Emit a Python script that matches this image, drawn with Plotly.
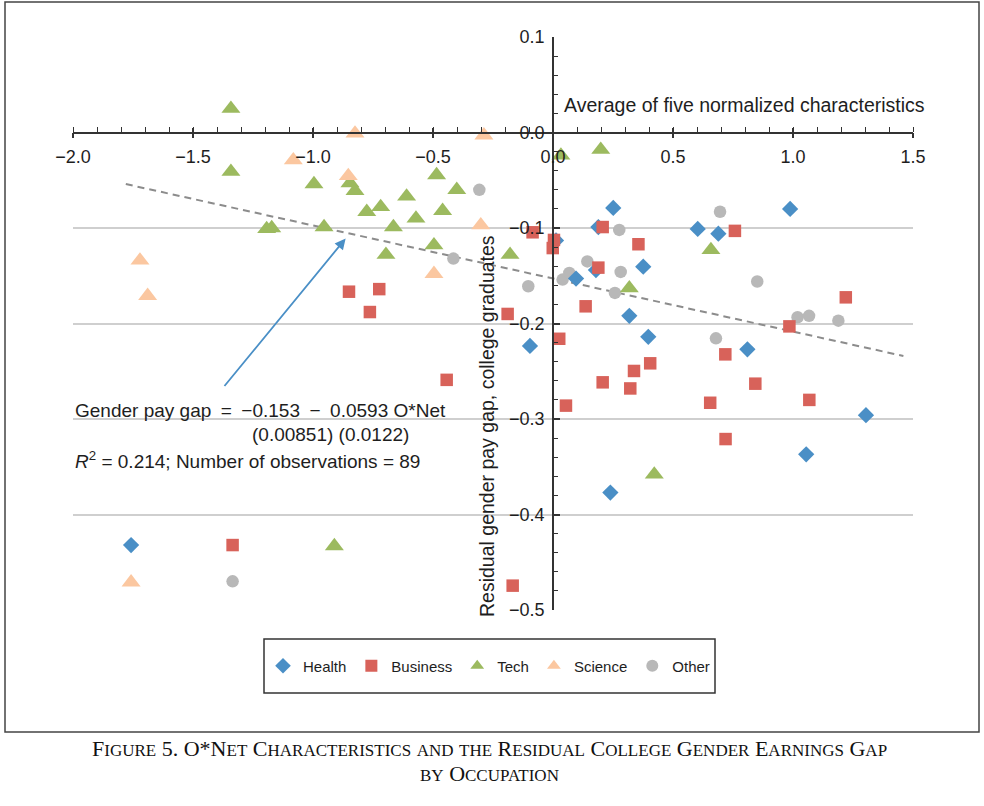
import plotly.graph_objects as go

# ---------------- data ----------------
health_x = [0.251, 0.189, 0.0125, 0.179, 0.096, 0.376, 0.318, 0.397, -0.096, 0.810,
            0.239, 1.055, 1.304, 0.603, 0.689, 0.988, -1.758]
health_y = [-0.079, -0.099, -0.113, -0.144, -0.153, -0.1405, -0.192, -0.214, -0.2235, -0.227,
            -0.377, -0.337, -0.296, -0.101, -0.106, -0.080, -0.432]

business_x = [-0.085, 0.004, -0.001, 0.207, 0.356, 0.189, 0.136, -0.189, 0.758, 1.220,
              0.985, -0.850, -0.724, -0.763, -0.443, -0.168, 0.026, 0.054, 0.207, 0.322,
              0.3375, 0.405, 0.718, 0.655, 0.719, 0.843, 1.068, -1.335]
business_y = [-0.1045, -0.1125, -0.121, -0.099, -0.117, -0.1415, -0.182, -0.190, -0.103, -0.1726,
              -0.203, -0.1667, -0.164, -0.188, -0.259, -0.4745, -0.216, -0.286, -0.2616, -0.268,
              -0.2497, -0.2417, -0.2323, -0.283, -0.321, -0.263, -0.280, -0.432]

tech_x = [-1.342, -1.342, -0.996, -0.846, -0.825, -0.776, -0.718, -0.610, -0.485, -0.401,
          -0.460, -0.571, -0.665, -1.193, -1.172, -0.954, -0.696, -0.496, -0.179, 0.033,
          0.199, 0.658, 0.318, 0.422, -0.911]
tech_y = [0.025, -0.041, -0.054, -0.053, -0.061, -0.083, -0.078, -0.067, -0.0445, -0.060,
          -0.082, -0.090, -0.099, -0.101, -0.100, -0.099, -0.128, -0.118, -0.128, -0.024,
          -0.018, -0.123, -0.163, -0.358, -0.433]

science_x = [-0.825, -0.288, -1.082, -0.853, -0.301, -1.721, -1.689, -0.496, -1.758]
science_y = [-0.001, -0.003, -0.029, -0.0455, -0.097, -0.134, -0.171, -0.148, -0.471]

other_x = [-0.307, -0.415, -0.103, 0.040, 0.068, 0.143, 0.276, 0.282, 0.258, 0.696,
           0.851, 0.679, 1.019, 1.067, 1.189, -1.335]
other_y = [-0.060, -0.132, -0.161, -0.154, -0.147, -0.135, -0.102, -0.146, -0.168, -0.083,
           -0.156, -0.2155, -0.1935, -0.192, -0.197, -0.470]

fit_x = [-1.78, 1.46]
fit_y = [-0.054, -0.234]

arrow_tail = (-1.374, -0.267)
arrow_head = (-0.864, -0.111)

x_ticks = [-2.0, -1.5, -1.0, -0.5, 0.0, 0.5, 1.0, 1.5]
y_ticks = [0.1, 0.0, -0.1, -0.2, -0.3, -0.4, -0.5]

# ---------------- layout helpers ----------------
W, H = 984, 806
L, R, T, B = 73, 913, 37, 610  # plot area in pixels


def xp(px):
    return (px - L) / (R - L)


def yp(py):
    return (B - py) / (B - T)


FONT = "Liberation Sans, Arial, sans-serif"
SERIF = "Liberation Serif, Times New Roman, serif"
TXT = "#1e1e1e"

fig = go.Figure()

fig.add_trace(go.Scatter(x=fit_x, y=fit_y, mode="lines", showlegend=False,
                         line=dict(color="#8c8c8c", width=2, dash="7px,5px"),
                         hoverinfo="skip"))

series = [
    ("Other", other_x, other_y, "circle", "#b8b8b8", 12.5, 5),
    ("Health", health_x, health_y, "diamond", "#4a8fc6", 12.5, 1),
    ("Business", business_x, business_y, "square", "#d8625a", 12.5, 2),
    ("Tech", tech_x, tech_y, "triangle-up", "#9cba5f", 16.5, 3),
    ("Science", science_x, science_y, "triangle-up", "#fbc7a0", 16.5, 4),
]
for name, xs, ys, sym, col, sz, rank in series:
    fig.add_trace(go.Scatter(x=xs, y=ys, mode="markers", name=name, legendrank=rank,
                             marker=dict(symbol=sym, color=col, size=sz, line=dict(width=0))))

# overlay axis for the upward half of x major ticks
fig.add_trace(go.Scatter(x=[None], y=[None], xaxis="x2", showlegend=False, hoverinfo="skip"))

x_pos = (0 - (-0.5)) / 0.6
y_pos = (0 - (-2.0)) / 3.5

fig.update_layout(
    width=W, height=H,
    margin=dict(l=L, r=W - R, t=T, b=H - B),
    paper_bgcolor="white", plot_bgcolor="white",
    font=dict(family=FONT, size=18, color=TXT),
    xaxis=dict(range=[-2.0, 1.5], anchor="free", position=x_pos,
               showgrid=False, zeroline=False, showline=True, linecolor="#333333", linewidth=1.5,
               ticks="outside", ticklen=5, tickwidth=1.5, tickcolor="#333333",
               tickvals=x_ticks, tickformat=".1f", ticklabelstandoff=3,
               minor=dict(ticks="inside", dtick=0.1, ticklen=5, tickwidth=1.2, tickcolor="#333333",
                          showgrid=False),
               tickfont=dict(size=18, color=TXT)),
    xaxis2=dict(range=[-2.0, 1.5], overlaying="x", anchor="free", position=x_pos,
                showgrid=False, zeroline=False, showline=False,
                ticks="inside", ticklen=5, tickwidth=1.5, tickcolor="#333333",
                tickvals=x_ticks, showticklabels=False),
    yaxis=dict(range=[-0.5, 0.1], anchor="free", position=y_pos,
               showgrid=True, gridcolor="#cfcfcf", gridwidth=2,
               zeroline=False, showline=True, linecolor="#333333", linewidth=1.5,
               ticks="inside", ticklen=6, tickwidth=1.5, tickcolor="#333333",
               tickvals=y_ticks, tickformat=".1f", ticklabelstandoff=4,
               minor=dict(ticks="inside", dtick=0.02, ticklen=4, tickwidth=1.2, tickcolor="#333333",
                          showgrid=False),
               tickfont=dict(size=18, color=TXT)),
    legend=dict(orientation="h", x=xp(489), xanchor="center", y=yp(666), yanchor="middle",
                borderwidth=0, bgcolor="rgba(0,0,0,0)",
                font=dict(family=FONT, size=15, color=TXT),
                itemsizing="constant", itemwidth=30, traceorder="normal"),
    showlegend=True,
)


def smallcaps(text, big, small):
    out = []
    for ch in text:
        if ch.islower():
            out.append(f'<span style="font-size:{small}px">{ch.upper()}</span>')
        else:
            out.append(f'<span style="font-size:{big}px">{ch}</span>')
    return "".join(out)


ann = [
    dict(x=xp(562), y=yp(105), xref="paper", yref="paper", xanchor="left", yanchor="middle",
         text="Average of five normalized characteristics", showarrow=False,
         font=dict(size=19.5, color=TXT)),
    dict(x=xp(487), y=yp(426), xref="paper", yref="paper", xanchor="center", yanchor="middle",
         text="Residual gender pay gap, college graduates", textangle=-90, showarrow=False,
         font=dict(size=19.5, color=TXT)),
    dict(x=xp(73), y=yp(410), xref="paper", yref="paper", xanchor="left", yanchor="middle",
         text="Gender pay gap\u2002=\u2002\u22120.153\u2002\u2212\u20020.0593 O*Net", showarrow=False,
         font=dict(size=19, color=TXT)),
    dict(x=xp(330), y=yp(434), xref="paper", yref="paper", xanchor="center", yanchor="middle",
         text="(0.00851) (0.0122)", showarrow=False,
         font=dict(size=19, color=TXT)),
    dict(x=xp(73), y=yp(460), xref="paper", yref="paper", xanchor="left", yanchor="middle",
         text="<i>R</i><sup>2</sup> = 0.214; Number of observations = 89", showarrow=False,
         font=dict(size=19, color=TXT)),
    dict(x=arrow_head[0], y=arrow_head[1], ax=arrow_tail[0], ay=arrow_tail[1],
         xref="x", yref="y", axref="x", ayref="y", text="", showarrow=True,
         arrowhead=2, arrowsize=1.2, arrowwidth=1.8, arrowcolor="#4a8fc6"),
    dict(x=xp(489), y=yp(748), xref="paper", yref="paper", xanchor="center", yanchor="middle",
         text=smallcaps("Figure 5. O*Net Characteristics and the Residual College Gender Earnings Gap", 22, 17),
         showarrow=False, font=dict(family=SERIF, size=22, color="#111111")),
    dict(x=xp(489), y=yp(773), xref="paper", yref="paper", xanchor="center", yanchor="middle",
         text=smallcaps("by Occupation", 22, 17),
         showarrow=False, font=dict(family=SERIF, size=22, color="#111111")),
]
fig.update_layout(annotations=ann)

# outer frame and legend box
fig.add_shape(type="rect", xref="paper", yref="paper",
              x0=xp(5), x1=xp(979), y0=yp(732), y1=yp(2),
              line=dict(color="#444444", width=1.5), fillcolor="rgba(0,0,0,0)", layer="below")
fig.add_shape(type="rect", xref="paper", yref="paper",
              x0=xp(264), x1=xp(715), y0=yp(693), y1=yp(639),
              line=dict(color="#333333", width=1.5), fillcolor="rgba(0,0,0,0)", layer="below")

fig.write_html("out.html")
